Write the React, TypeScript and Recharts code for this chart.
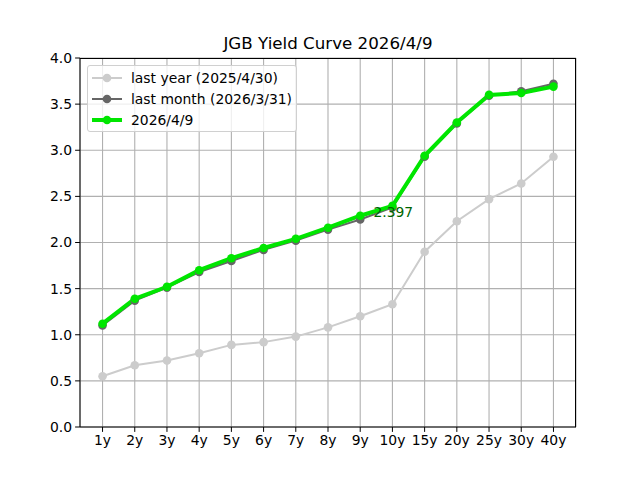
import { LineChart, Line, XAxis, YAxis, CartesianGrid } from 'recharts';

const tenors = ['1y', '2y', '3y', '4y', '5y', '6y', '7y', '8y', '9y', '10y', '15y', '20y', '25y', '30y', '40y'];
const lastYear = [0.55, 0.67, 0.72, 0.8, 0.89, 0.92, 0.98, 1.08, 1.2, 1.33, 1.9, 2.23, 2.47, 2.64, 2.93];
const lastMonth = [1.1, 1.37, 1.51, 1.68, 1.8, 1.92, 2.02, 2.14, 2.25, 2.38, 2.93, 3.29, 3.59, 3.64, 3.72];
const today = [1.12, 1.39, 1.52, 1.7, 1.83, 1.94, 2.04, 2.16, 2.29, 2.397, 2.94, 3.3, 3.6, 3.62, 3.69];
const yTicks = [0, 0.5, 1, 1.5, 2, 2.5, 3, 3.5, 4];
const xTicks = tenors.map((_, i) => i);

const data = tenors.map((t, i) => ({
  x: i,
  tenor: t,
  lastYear: lastYear[i],
  lastMonth: lastMonth[i],
  today: today[i],
}));

const font = 'DejaVu Sans, sans-serif';

const legendItems = [
  { label: 'last year (2025/4/30)', color: '#cccccc', width: 2 },
  { label: 'last month (2026/3/31)', color: '#666666', width: 2 },
  { label: '2026/4/9', color: '#00e600', width: 4 },
];

function LegendBox() {
  return (
    <div
      style={{
        position: 'absolute',
        left: 87,
        top: 65,
        width: 210,
        height: 67,
        boxSizing: 'border-box',
        border: '1px solid #d0d0d0',
        borderRadius: 3,
        background: 'rgba(255,255,255,0.8)',
        padding: '1px 0 0 4px',
        fontFamily: font,
        fontSize: 13.9,
        color: '#000',
        zIndex: 3,
      }}
    >
      {legendItems.map((it) => (
        <div key={it.label} style={{ display: 'flex', alignItems: 'center', height: 21.3 }}>
          <svg width={31} height={12} style={{ marginRight: 8, flex: 'none' }}>
            <line x1={0} y1={6} x2={30} y2={6} stroke={it.color} strokeWidth={it.width} />
            <circle cx={15} cy={6} r={4.3} fill={it.color} />
          </svg>
          <span style={{ whiteSpace: 'nowrap' }}>{it.label}</span>
        </div>
      ))}
    </div>
  );
}

const AnnotLabel = (props: any) => {
  const { x, y, index } = props;
  if (index !== 9) return null;
  return (
    <text x={x - 19} y={y + 11} fill="#006400" fontFamily={font} fontSize={13.9}>
      {today[index]}
    </text>
  );
};

export default function App() {
  return (
    <div style={{ position: 'absolute', left: 0, top: 0, width: 640, height: 480, background: '#fff' }}>
      <div
        style={{
          position: 'absolute',
          top: 33,
          left: 0,
          width: 656,
          textAlign: 'center',
          fontFamily: font,
          fontSize: 16.7,
          zIndex: 2,
        }}
      >
        JGB Yield Curve 2026/4/9
      </div>
      <LineChart
        width={640}
        height={480}
        data={data}
        margin={{ top: 58, right: 64, left: 40, bottom: 23 }}
      >
        <CartesianGrid stroke="#b0b0b0" strokeWidth={1.1} horizontal vertical />
        <XAxis
          dataKey="x"
          type="number"
          domain={[-0.7, 14.7]}
          ticks={xTicks}
          tickFormatter={(v) => tenors[v]}
          interval={0}
          height={30}
          stroke="#000"
          tickSize={4.9}
          tick={{ fill: '#000', fontSize: 13.9, fontFamily: font }}
          tickMargin={3}
          allowDataOverflow
        />
        <YAxis
          type="number"
          domain={[0, 4]}
          ticks={yTicks}
          tickFormatter={(v) => Number(v).toFixed(1)}
          width={40}
          stroke="#000"
          tickSize={4.9}
          tick={{ fill: '#000', fontSize: 13.9, fontFamily: font }}
          tickMargin={3}
        />
        <Line
          dataKey="lastYear"
          stroke="#cccccc"
          strokeWidth={2}
          dot={{ r: 4.3, fill: '#cccccc', stroke: '#cccccc', strokeWidth: 0 }}
          isAnimationActive={false}
        />
        <Line
          dataKey="lastMonth"
          stroke="#666666"
          strokeWidth={2}
          dot={{ r: 4.3, fill: '#666666', stroke: '#666666', strokeWidth: 0 }}
          isAnimationActive={false}
        />
        <Line
          dataKey="today"
          stroke="#00e600"
          strokeWidth={4}
          dot={{ r: 4.3, fill: '#00e600', stroke: '#00e600', strokeWidth: 0 }}
          label={<AnnotLabel />}
          isAnimationActive={false}
        />
      </LineChart>
      <LegendBox />
      <div
        style={{
          position: 'absolute',
          left: 80,
          top: 58,
          width: 496,
          height: 369,
          boxSizing: 'border-box',
          borderTop: '1px solid #000',
          borderRight: '1px solid #000',
          pointerEvents: 'none',
        }}
      />
    </div>
  );
}
